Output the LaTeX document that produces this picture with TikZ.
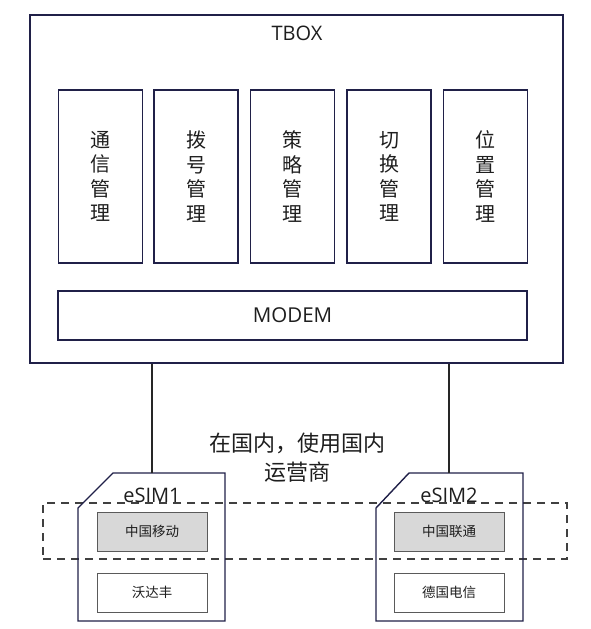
\documentclass[tikz,border=0pt]{standalone}
\usepackage{fontspec}
\setmainfont{Open Sans}
\newfontfamily\cjk{Noto Sans CJK SC}
\definecolor{navy}{RGB}{32,32,72}
\definecolor{boxgray}{RGB}{90,90,90}
\definecolor{cellfill}{RGB}{216,216,216}
\definecolor{inkc}{RGB}{30,30,30}
\begin{document}
\begin{tikzpicture}[x=1pt,y=-1pt,
  outerbox/.style={draw=navy,line width=1.7pt,rectangle,inner sep=0pt},
  modbox/.style={draw=navy,line width=1.4pt,rectangle,inner sep=0pt,minimum width=84pt,minimum height=173pt,align=center,text=inkc,font=\cjk\fontsize{20}{24.5}\selectfont},
  cell/.style={draw=boxgray,line width=1pt,rectangle,inner sep=0pt,minimum width=110pt,minimum height=39pt,text=inkc,font=\cjk\fontsize{13.5}{15}\selectfont},
  graycell/.style={cell,fill=cellfill},
  card/.style={draw=navy,line width=1.4pt,line join=miter},
  link/.style={draw=black!85,line width=1.2pt},
  latin/.style={text=inkc,font=\fontsize{20}{22}\selectfont},
  zonebox/.style={draw=black!75,line width=1.1pt,dash pattern=on 8pt off 6pt,rectangle,inner sep=0pt,minimum width=524pt,minimum height=56pt}
]
\useasboundingbox (0,0) rectangle (590,629);
% outer TBOX
\node[outerbox,minimum width=533pt,minimum height=348pt] (tbox) at (296.5,189) {};
\node[latin] (tboxlabel) at (297,33) {TBOX};
% modules
\node[modbox] (m1) at (100.5,176.5) {通\\信\\管\\理};
\node[modbox] (m2) at (196,176.5) {拨\\号\\管\\理};
\node[modbox] (m3) at (292.5,176.5) {策\\略\\管\\理};
\node[modbox] (m4) at (389,176.5) {切\\换\\管\\理};
\node[modbox] (m5) at (485.5,176.5) {位\\置\\管\\理};
% modem
\node[draw=navy,line width=1.4pt,rectangle,inner sep=0pt,minimum width=469pt,minimum height=49pt,latin,font=\fontsize{20.5}{22}\selectfont] (modem) at (292.5,315.5) {MODEM};
% dashed zone
\node[zonebox] (zone) at (305,531) {};
% cards
\draw[card] (113,473) -- (225,473) -- (225,621) -- (78,621) -- (78,508) -- cycle;
\draw[card] (409,473) -- (523,473) -- (523,621) -- (376,621) -- (376,508) -- cycle;
\coordinate (c1top) at (152,473);
\coordinate (c2top) at (449,473);
\node[latin,anchor=base] (e1) at (152,502) {eSIM1};
\node[latin,anchor=base] (e2) at (449,502) {eSIM2};
\node[graycell] (cm) at (152,531.5) {中国移动};
\node[cell] (vf) at (152,592.5) {沃达丰};
\node[graycell] (cu) at (449,531.5) {中国联通};
\node[cell] (dt) at (449,592.5) {德国电信};
% links
\draw[link] (tbox.south -| c1top) -- (c1top);
\draw[link] (tbox.south -| c2top) -- (c2top);
% note
\node[text=inkc,font=\cjk\fontsize{22}{29}\selectfont,align=center] (note) at (297,458) {在国内，使用国内\\运营商};
\end{tikzpicture}
\end{document}
